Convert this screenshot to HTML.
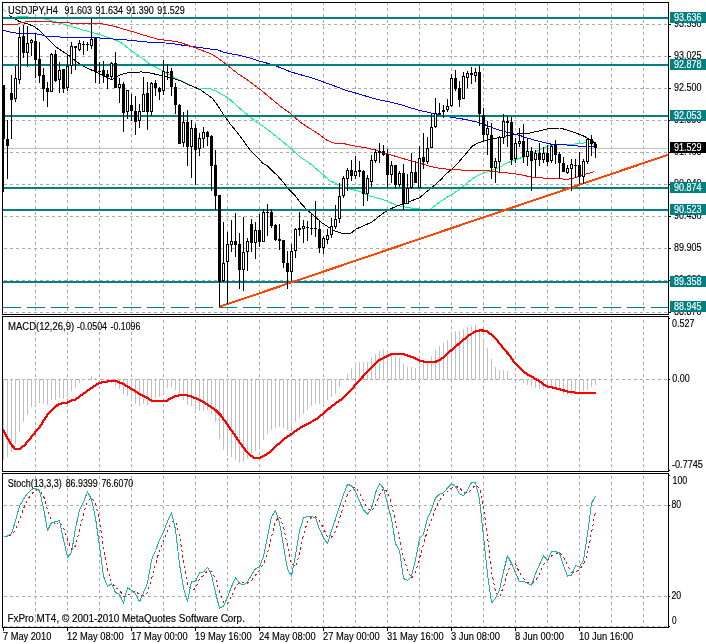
<!DOCTYPE html>
<html><head><meta charset="utf-8"><title>USDJPY,H4</title>
<style>html,body{margin:0;padding:0;background:#fff}svg{display:block}text{font-family:"Liberation Sans",Arial,sans-serif;font-size:10px;fill:#000;stroke:#000;stroke-width:0.15px}.w{stroke:#fff}.w{fill:#fff}</style>
</head><body>
<svg width="706" height="644" viewBox="0 0 706 644">
<rect x="0" y="0" width="706" height="644" fill="#fff"/>
<g stroke="#ababab" stroke-width="1" stroke-dasharray="3 3" shape-rendering="crispEdges" fill="none">
<line x1="35.5" y1="2" x2="35.5" y2="627"/>
<line x1="67.5" y1="2" x2="67.5" y2="627"/>
<line x1="99.5" y1="2" x2="99.5" y2="627"/>
<line x1="131.5" y1="2" x2="131.5" y2="627"/>
<line x1="163.5" y1="2" x2="163.5" y2="627"/>
<line x1="195.5" y1="2" x2="195.5" y2="627"/>
<line x1="227.5" y1="2" x2="227.5" y2="627"/>
<line x1="259.5" y1="2" x2="259.5" y2="627"/>
<line x1="291.5" y1="2" x2="291.5" y2="627"/>
<line x1="323.5" y1="2" x2="323.5" y2="627"/>
<line x1="355.5" y1="2" x2="355.5" y2="627"/>
<line x1="387.5" y1="2" x2="387.5" y2="627"/>
<line x1="419.5" y1="2" x2="419.5" y2="627"/>
<line x1="451.5" y1="2" x2="451.5" y2="627"/>
<line x1="483.5" y1="2" x2="483.5" y2="627"/>
<line x1="515.5" y1="2" x2="515.5" y2="627"/>
<line x1="547.5" y1="2" x2="547.5" y2="627"/>
<line x1="579.5" y1="2" x2="579.5" y2="627"/>
<line x1="611.5" y1="2" x2="611.5" y2="627"/>
<line x1="643.5" y1="2" x2="643.5" y2="627"/>
<line x1="4" y1="24.5" x2="668" y2="24.5"/>
<line x1="4" y1="56.5" x2="668" y2="56.5"/>
<line x1="4" y1="88.5" x2="668" y2="88.5"/>
<line x1="4" y1="120.5" x2="668" y2="120.5"/>
<line x1="4" y1="152.5" x2="668" y2="152.5"/>
<line x1="4" y1="184.5" x2="668" y2="184.5"/>
<line x1="4" y1="216.5" x2="668" y2="216.5"/>
<line x1="4" y1="248.5" x2="668" y2="248.5"/>
<line x1="4" y1="280.5" x2="668" y2="280.5"/>
<line x1="4" y1="312.5" x2="668" y2="312.5"/>
<line x1="4" y1="379.5" x2="668" y2="379.5"/>
<line x1="4" y1="505.5" x2="668" y2="505.5"/>
<line x1="4" y1="596.5" x2="668" y2="596.5"/>
<line x1="4" y1="626.5" x2="668" y2="626.5"/>
</g>
<line x1="3" y1="148.5" x2="668" y2="148.5" stroke="#c0c0c0" stroke-width="1" shape-rendering="crispEdges"/>
<g stroke="#c0c0c0" stroke-width="1" shape-rendering="crispEdges">
<line x1="3.5" y1="379" x2="3.5" y2="460"/>
<line x1="7.5" y1="379" x2="7.5" y2="457"/>
<line x1="11.5" y1="379" x2="11.5" y2="452"/>
<line x1="15.5" y1="379" x2="15.5" y2="444"/>
<line x1="19.5" y1="379" x2="19.5" y2="432"/>
<line x1="23.5" y1="379" x2="23.5" y2="422"/>
<line x1="27.5" y1="379" x2="27.5" y2="415"/>
<line x1="31.5" y1="379" x2="31.5" y2="407"/>
<line x1="35.5" y1="379" x2="35.5" y2="405"/>
<line x1="39.5" y1="379" x2="39.5" y2="403"/>
<line x1="43.5" y1="379" x2="43.5" y2="404"/>
<line x1="47.5" y1="379" x2="47.5" y2="405"/>
<line x1="51.5" y1="379" x2="51.5" y2="400"/>
<line x1="55.5" y1="379" x2="55.5" y2="400"/>
<line x1="59.5" y1="379" x2="59.5" y2="398"/>
<line x1="63.5" y1="379" x2="63.5" y2="399"/>
<line x1="67.5" y1="379" x2="67.5" y2="397"/>
<line x1="71.5" y1="379" x2="71.5" y2="391"/>
<line x1="75.5" y1="379" x2="75.5" y2="388"/>
<line x1="79.5" y1="379" x2="79.5" y2="383"/>
<line x1="83.5" y1="379" x2="83.5" y2="380"/>
<line x1="91.5" y1="376" x2="91.5" y2="380"/>
<line x1="95.5" y1="378" x2="95.5" y2="380"/>
<line x1="103.5" y1="379" x2="103.5" y2="380"/>
<line x1="107.5" y1="379" x2="107.5" y2="380"/>
<line x1="111.5" y1="379" x2="111.5" y2="383"/>
<line x1="115.5" y1="379" x2="115.5" y2="386"/>
<line x1="119.5" y1="379" x2="119.5" y2="389"/>
<line x1="123.5" y1="379" x2="123.5" y2="394"/>
<line x1="127.5" y1="379" x2="127.5" y2="396"/>
<line x1="131.5" y1="379" x2="131.5" y2="401"/>
<line x1="135.5" y1="379" x2="135.5" y2="404"/>
<line x1="139.5" y1="379" x2="139.5" y2="406"/>
<line x1="143.5" y1="379" x2="143.5" y2="404"/>
<line x1="147.5" y1="379" x2="147.5" y2="405"/>
<line x1="151.5" y1="379" x2="151.5" y2="401"/>
<line x1="155.5" y1="379" x2="155.5" y2="398"/>
<line x1="159.5" y1="379" x2="159.5" y2="397"/>
<line x1="163.5" y1="379" x2="163.5" y2="394"/>
<line x1="167.5" y1="379" x2="167.5" y2="388"/>
<line x1="171.5" y1="379" x2="171.5" y2="387"/>
<line x1="175.5" y1="379" x2="175.5" y2="390"/>
<line x1="179.5" y1="379" x2="179.5" y2="393"/>
<line x1="183.5" y1="379" x2="183.5" y2="400"/>
<line x1="187.5" y1="379" x2="187.5" y2="405"/>
<line x1="191.5" y1="379" x2="191.5" y2="406"/>
<line x1="195.5" y1="379" x2="195.5" y2="412"/>
<line x1="199.5" y1="379" x2="199.5" y2="411"/>
<line x1="203.5" y1="379" x2="203.5" y2="411"/>
<line x1="207.5" y1="379" x2="207.5" y2="410"/>
<line x1="211.5" y1="379" x2="211.5" y2="414"/>
<line x1="215.5" y1="379" x2="215.5" y2="422"/>
<line x1="219.5" y1="379" x2="219.5" y2="439"/>
<line x1="223.5" y1="379" x2="223.5" y2="450"/>
<line x1="227.5" y1="379" x2="227.5" y2="456"/>
<line x1="231.5" y1="379" x2="231.5" y2="457"/>
<line x1="235.5" y1="379" x2="235.5" y2="460"/>
<line x1="239.5" y1="379" x2="239.5" y2="463"/>
<line x1="243.5" y1="379" x2="243.5" y2="462"/>
<line x1="247.5" y1="379" x2="247.5" y2="459"/>
<line x1="251.5" y1="379" x2="251.5" y2="454"/>
<line x1="255.5" y1="379" x2="255.5" y2="451"/>
<line x1="259.5" y1="379" x2="259.5" y2="449"/>
<line x1="263.5" y1="379" x2="263.5" y2="440"/>
<line x1="267.5" y1="379" x2="267.5" y2="434"/>
<line x1="271.5" y1="379" x2="271.5" y2="430"/>
<line x1="275.5" y1="379" x2="275.5" y2="428"/>
<line x1="279.5" y1="379" x2="279.5" y2="427"/>
<line x1="283.5" y1="379" x2="283.5" y2="428"/>
<line x1="287.5" y1="379" x2="287.5" y2="430"/>
<line x1="291.5" y1="379" x2="291.5" y2="428"/>
<line x1="295.5" y1="379" x2="295.5" y2="422"/>
<line x1="299.5" y1="379" x2="299.5" y2="418"/>
<line x1="303.5" y1="379" x2="303.5" y2="414"/>
<line x1="307.5" y1="379" x2="307.5" y2="410"/>
<line x1="311.5" y1="379" x2="311.5" y2="406"/>
<line x1="315.5" y1="379" x2="315.5" y2="404"/>
<line x1="319.5" y1="379" x2="319.5" y2="404"/>
<line x1="323.5" y1="379" x2="323.5" y2="403"/>
<line x1="327.5" y1="379" x2="327.5" y2="400"/>
<line x1="331.5" y1="379" x2="331.5" y2="397"/>
<line x1="335.5" y1="379" x2="335.5" y2="394"/>
<line x1="339.5" y1="379" x2="339.5" y2="387"/>
<line x1="343.5" y1="379" x2="343.5" y2="380"/>
<line x1="347.5" y1="374" x2="347.5" y2="380"/>
<line x1="351.5" y1="368" x2="351.5" y2="380"/>
<line x1="355.5" y1="362" x2="355.5" y2="380"/>
<line x1="359.5" y1="362" x2="359.5" y2="380"/>
<line x1="363.5" y1="362" x2="363.5" y2="380"/>
<line x1="367.5" y1="362" x2="367.5" y2="380"/>
<line x1="371.5" y1="358" x2="371.5" y2="380"/>
<line x1="375.5" y1="354" x2="375.5" y2="380"/>
<line x1="379.5" y1="351" x2="379.5" y2="380"/>
<line x1="383.5" y1="349" x2="383.5" y2="380"/>
<line x1="387.5" y1="350" x2="387.5" y2="380"/>
<line x1="391.5" y1="355" x2="391.5" y2="380"/>
<line x1="395.5" y1="356" x2="395.5" y2="380"/>
<line x1="399.5" y1="358" x2="399.5" y2="380"/>
<line x1="403.5" y1="364" x2="403.5" y2="380"/>
<line x1="407.5" y1="367" x2="407.5" y2="380"/>
<line x1="411.5" y1="367" x2="411.5" y2="380"/>
<line x1="415.5" y1="368" x2="415.5" y2="380"/>
<line x1="419.5" y1="366" x2="419.5" y2="380"/>
<line x1="423.5" y1="363" x2="423.5" y2="380"/>
<line x1="427.5" y1="361" x2="427.5" y2="380"/>
<line x1="431.5" y1="356" x2="431.5" y2="380"/>
<line x1="435.5" y1="350" x2="435.5" y2="380"/>
<line x1="439.5" y1="346" x2="439.5" y2="380"/>
<line x1="443.5" y1="343" x2="443.5" y2="380"/>
<line x1="447.5" y1="340" x2="447.5" y2="380"/>
<line x1="451.5" y1="332" x2="451.5" y2="380"/>
<line x1="455.5" y1="331" x2="455.5" y2="380"/>
<line x1="459.5" y1="331" x2="459.5" y2="380"/>
<line x1="463.5" y1="329" x2="463.5" y2="380"/>
<line x1="467.5" y1="327" x2="467.5" y2="380"/>
<line x1="471.5" y1="326" x2="471.5" y2="380"/>
<line x1="475.5" y1="325" x2="475.5" y2="380"/>
<line x1="479.5" y1="329" x2="479.5" y2="380"/>
<line x1="483.5" y1="338" x2="483.5" y2="380"/>
<line x1="487.5" y1="348" x2="487.5" y2="380"/>
<line x1="491.5" y1="359" x2="491.5" y2="380"/>
<line x1="495.5" y1="367" x2="495.5" y2="380"/>
<line x1="499.5" y1="370" x2="499.5" y2="380"/>
<line x1="503.5" y1="370" x2="503.5" y2="380"/>
<line x1="507.5" y1="371" x2="507.5" y2="380"/>
<line x1="511.5" y1="378" x2="511.5" y2="380"/>
<line x1="519.5" y1="379" x2="519.5" y2="381"/>
<line x1="523.5" y1="379" x2="523.5" y2="383"/>
<line x1="527.5" y1="379" x2="527.5" y2="385"/>
<line x1="531.5" y1="379" x2="531.5" y2="386"/>
<line x1="535.5" y1="379" x2="535.5" y2="388"/>
<line x1="539.5" y1="379" x2="539.5" y2="389"/>
<line x1="543.5" y1="379" x2="543.5" y2="389"/>
<line x1="547.5" y1="379" x2="547.5" y2="389"/>
<line x1="551.5" y1="379" x2="551.5" y2="388"/>
<line x1="555.5" y1="379" x2="555.5" y2="390"/>
<line x1="559.5" y1="379" x2="559.5" y2="391"/>
<line x1="563.5" y1="379" x2="563.5" y2="394"/>
<line x1="567.5" y1="379" x2="567.5" y2="395"/>
<line x1="571.5" y1="379" x2="571.5" y2="395"/>
<line x1="575.5" y1="379" x2="575.5" y2="394"/>
<line x1="579.5" y1="379" x2="579.5" y2="393"/>
<line x1="583.5" y1="379" x2="583.5" y2="391"/>
<line x1="587.5" y1="379" x2="587.5" y2="390"/>
<line x1="591.5" y1="379" x2="591.5" y2="387"/>
<line x1="595.5" y1="379" x2="595.5" y2="385"/>
</g>
<g fill="none" stroke-linejoin="round" shape-rendering="crispEdges">
<polyline points="17.0,16.4 18.0,16.3 26.0,16.3 30.0,17.5 40.0,18.0 46.0,19.2 67.6,25.3 85.0,30.5 99.0,34.4 113.0,39.0 121.0,42.6 131.0,50.4 142.0,58.2 149.0,63.5 160.0,69.5 170.0,75.2 178.0,79.4 185.0,82.7 195.0,87.6 199.0,89.4 204.0,88.6 210.0,88.7 216.0,91.0 222.0,94.4 228.0,97.9 236.0,105.0 247.0,114.5 255.0,121.0 262.0,125.5 267.0,129.1 275.0,135.4 285.0,143.4 292.0,149.6 300.0,156.8 310.0,163.5 320.0,172.0 330.0,180.9 340.0,185.4 350.0,189.0 360.0,191.6 370.0,196.0 380.0,198.8 388.0,201.4 396.0,205.0 405.0,207.1 412.0,208.2 418.0,208.4 420.0,209.6 430.0,209.6 432.0,208.0 440.0,201.8 450.0,195.5 460.0,189.3 467.0,183.0 475.0,176.8 483.0,173.2 492.0,170.5 500.0,167.0 506.0,163.4 514.0,160.2 522.0,157.5 530.0,155.0 535.0,151.8 543.0,148.2 549.0,145.5 556.0,144.6 572.0,144.6 579.0,143.4 585.0,142.9 590.0,143.4 595.5,144.6" stroke="#00ff7f" stroke-width="1"/>
<polyline points="3,9 5.6,11.7" stroke="#00ff7f" stroke-width="1"/>
<polyline points="9.0,15.2 10.0,16.2 14.0,18.5 19.5,21.5 24.0,23.0 29.5,24.5 35.0,27.0 40.0,31.0 44.5,35.7 48.0,39.2 56.0,47.0 67.6,54.6 79.0,63.5 85.0,67.0 95.0,71.6 103.0,75.2 111.0,79.7 115.0,78.0 119.0,75.2 127.0,73.0 141.0,71.9 150.0,73.0 160.0,75.2 170.0,77.6 180.0,80.6 190.0,85.3 200.0,89.5 206.0,93.8 212.0,98.0 217.0,104.5 223.0,113.8 230.0,123.7 237.0,132.2 244.0,141.5 250.0,150.0 257.0,156.8 263.0,163.5 267.0,165.7 273.0,171.6 277.0,175.0 283.0,182.0 288.0,188.5 295.0,195.5 301.0,203.5 307.0,209.8 315.0,216.6 322.0,222.9 330.0,228.2 336.0,231.4 342.0,233.2 351.0,233.2 356.0,229.1 364.0,225.5 372.0,222.0 380.0,215.7 386.0,211.2 393.0,207.7 400.0,205.0 408.0,202.3 415.0,199.4 420.0,197.5 425.0,192.9 432.0,187.5 440.0,180.4 447.0,173.2 454.0,167.0 460.0,160.7 466.0,153.6 472.0,146.4 478.0,142.9 485.0,140.7 492.0,138.9 500.0,137.5 508.0,135.4 518.0,133.9 530.0,133.0 540.0,130.7 550.0,128.2 560.0,128.0 567.0,130.0 575.0,132.7 583.0,135.7 588.0,138.4 592.0,140.7 595.5,143.8" stroke="#000" stroke-width="1"/>
<polyline points="3.0,30.4 6.0,31.0 10.0,32.0 18.0,33.3 34.0,33.5 42.0,35.0 46.0,36.3 63.7,37.2 89.0,37.2 99.0,37.9 113.0,39.0 127.0,40.0 145.0,41.9 165.0,43.0 170.0,43.1 180.0,44.8 190.0,46.2 200.0,47.6 210.0,49.0 217.0,49.7 224.0,52.3 232.0,54.0 240.0,55.4 250.0,58.0 260.0,61.2 270.0,64.0 280.0,67.5 291.0,72.0 300.0,74.6 310.0,77.3 323.0,81.8 335.0,86.2 346.0,90.4 357.0,93.4 370.0,97.4 380.0,100.0 390.0,102.1 400.0,104.5 410.0,107.7 420.0,110.5 432.0,113.2 452.0,117.4 465.0,119.4 478.0,122.3 488.0,125.9 497.0,129.5 506.0,132.1 514.0,133.9 520.0,135.5 527.0,137.9 535.0,140.2 545.0,142.9 552.0,144.3 562.0,144.6 572.0,145.5 582.0,146.4 590.0,146.4 595.5,146.8" stroke="#0000ff" stroke-width="1"/>
<polyline points="3.0,24.5 17.0,24.5 19.0,23.3 22.0,22.5 29.0,21.3 46.0,21.3 55.0,22.3 70.0,23.0 85.0,23.5 100.0,23.5 113.0,26.0 131.0,31.2 145.0,35.5 159.0,39.5 170.0,40.7 180.0,42.4 188.0,45.2 195.0,47.6 202.0,50.5 210.0,53.3 217.0,57.5 224.0,62.5 231.0,68.2 238.0,73.8 247.0,79.5 255.0,85.5 262.0,91.0 270.0,97.6 280.0,105.9 291.0,113.9 300.0,122.0 308.0,127.3 318.0,133.6 326.0,139.8 333.0,142.9 345.0,143.9 355.0,146.0 370.0,148.6 385.0,153.2 400.0,157.6 410.0,160.7 420.0,163.2 430.0,166.4 440.0,168.4 452.0,169.6 465.0,170.2 478.0,170.2 490.0,171.0 500.0,172.3 510.0,173.2 520.0,174.5 530.0,176.8 540.0,177.7 550.0,178.6 560.0,178.6 567.0,179.5 575.0,177.7 583.0,175.0 590.0,172.9 594.5,171.6" stroke="#ff0000" stroke-width="1"/>
<polyline points="3.0,429.5 7.0,437.3 11.0,444.4 15.0,448.6 20.0,448.6 24.0,445.8 29.0,440.1 34.0,433.7 40.0,426.7 46.0,416.7 52.0,409.7 58.0,404.7 61.0,403.6 67.0,402.6 71.0,400.5 75.0,399.7 81.0,395.5 87.0,391.2 93.0,387.0 99.0,383.0 105.0,381.9 111.0,381.0 117.0,381.3 123.0,383.9 129.0,387.3 135.0,391.0 141.0,395.0 147.0,397.9 152.0,400.6 160.0,401.0 167.0,400.6 171.0,398.4 176.0,395.8 183.0,395.0 190.0,395.8 196.0,398.4 203.0,401.8 209.0,405.7 215.0,409.5 221.0,415.5 227.0,424.0 233.0,432.6 239.0,441.6 245.0,449.6 250.0,455.3 254.0,457.6 260.0,457.6 265.0,455.3 271.0,451.3 277.0,445.4 284.0,438.9 291.0,434.3 298.0,429.1 305.0,425.2 312.0,421.5 318.0,418.0 324.0,412.9 331.0,406.8 337.0,402.5 343.0,398.2 349.0,392.3 355.0,385.4 361.0,378.6 367.0,372.3 373.0,365.8 379.0,360.3 385.0,357.3 391.0,354.2 397.0,353.8 403.0,354.2 409.0,355.9 415.0,358.1 420.0,360.7 425.0,361.9 431.0,361.9 437.0,361.5 441.0,359.2 446.0,355.2 452.0,349.6 458.0,344.5 464.0,339.3 470.0,334.7 475.0,331.7 480.0,330.3 486.0,330.8 491.0,334.2 497.0,340.2 503.0,347.9 509.0,354.7 515.0,363.2 521.0,369.2 526.0,373.5 532.0,376.9 538.0,380.3 544.0,384.6 548.0,386.6 554.0,387.8 560.0,389.4 568.0,391.6 575.0,392.6 582.0,392.9 590.0,392.9 596.0,392.9" stroke="#ff0000" stroke-width="2.2"/>
<polyline points="3.5,536.1 7.5,536.1 11.5,535.2 15.5,530.1 19.5,520.1 23.5,508.7 27.5,499.5 31.5,494.0 35.5,490.4 39.5,489.6 43.5,495.7 47.5,509.7 51.5,520.4 55.5,525.0 59.5,521.7 63.5,527.4 67.5,539.2 71.5,549.9 75.5,546.1 79.5,530.4 83.5,513.5 87.5,501.2 91.5,497.7 95.5,503.0 99.5,521.0 103.5,546.7 107.5,569.6 111.5,582.1 115.5,587.6 119.5,590.1 123.5,596.6 127.5,595.0 131.5,593.6 135.5,590.5 139.5,595.2 143.5,596.0 147.5,592.5 151.5,578.5 155.5,564.5 159.5,550.2 163.5,540.8 167.5,531.1 171.5,522.0 175.5,521.3 179.5,535.6 183.5,560.6 187.5,584.7 191.5,590.5 195.5,588.5 199.5,578.8 203.5,575.4 207.5,570.7 211.5,571.4 215.5,578.3 219.5,591.9 223.5,602.4 227.5,603.9 231.5,596.7 235.5,587.2 239.5,582.6 243.5,582.1 247.5,583.4 251.5,580.7 255.5,575.2 259.5,570.2 263.5,564.0 267.5,553.3 271.5,536.6 275.5,521.3 279.5,516.6 283.5,526.3 287.5,545.9 291.5,563.8 295.5,566.9 299.5,554.0 303.5,534.6 307.5,521.6 311.5,516.8 315.5,516.8 319.5,521.1 323.5,528.2 327.5,536.8 331.5,537.3 335.5,531.1 339.5,518.7 343.5,506.7 347.5,495.0 351.5,488.2 355.5,487.3 359.5,492.9 363.5,500.9 367.5,508.5 371.5,510.9 375.5,505.3 379.5,495.0 383.5,488.1 387.5,491.9 391.5,503.7 395.5,522.2 399.5,537.7 403.5,557.5 407.5,569.8 411.5,578.4 415.5,572.2 419.5,558.3 423.5,544.3 427.5,530.3 431.5,520.5 435.5,508.5 439.5,500.6 443.5,495.0 447.5,491.7 451.5,488.2 455.5,486.1 459.5,487.9 463.5,491.9 467.5,493.1 471.5,489.4 475.5,485.0 479.5,488.1 483.5,506.1 487.5,536.6 491.5,571.1 495.5,591.7 499.5,597.1 503.5,586.6 507.5,572.4 511.5,563.5 515.5,563.9 519.5,572.7 523.5,578.7 527.5,582.2 531.5,583.2 535.5,580.7 539.5,574.4 543.5,564.8 547.5,560.1 551.5,555.9 555.5,554.4 559.5,552.1 563.5,556.8 567.5,564.9 571.5,572.3 575.5,572.3 579.5,569.2 583.5,564.3 587.5,553.8 591.5,532.7 595.5,511.2" stroke="#ff0000" stroke-width="1" stroke-dasharray="2.5 3"/>
<polyline points="3.5,536.1 7.5,536.1 11.5,533.5 15.5,520.8 19.5,506.1 23.5,499.1 27.5,493.4 31.5,489.6 35.5,488.3 39.5,490.8 43.5,508.0 47.5,530.4 51.5,522.7 55.5,521.8 59.5,520.5 63.5,539.9 67.5,557.1 71.5,552.7 75.5,528.4 79.5,510.0 83.5,502.0 87.5,491.7 91.5,499.3 95.5,517.9 99.5,545.9 103.5,576.2 107.5,586.6 111.5,583.6 115.5,592.5 119.5,594.3 123.5,603.0 127.5,587.8 131.5,590.1 135.5,593.6 139.5,601.8 143.5,592.5 147.5,583.2 151.5,559.9 155.5,550.5 159.5,540.1 163.5,531.9 167.5,521.4 171.5,512.8 175.5,529.6 179.5,564.5 183.5,587.8 187.5,601.8 191.5,582.0 195.5,581.6 199.5,572.7 203.5,572.0 207.5,567.3 211.5,575.0 215.5,592.5 219.5,608.3 223.5,606.4 227.5,597.1 231.5,586.6 235.5,578.0 239.5,583.2 243.5,585.0 247.5,582.0 251.5,575.0 255.5,568.7 259.5,566.8 263.5,556.4 267.5,536.6 271.5,516.8 275.5,510.5 279.5,522.6 283.5,545.9 287.5,569.2 291.5,576.2 295.5,555.2 299.5,530.7 303.5,517.9 307.5,516.3 311.5,516.3 315.5,517.9 319.5,529.1 323.5,537.7 327.5,543.6 331.5,530.7 335.5,519.1 339.5,506.3 343.5,494.6 347.5,484.2 351.5,485.8 355.5,491.8 359.5,501.2 363.5,509.8 367.5,514.4 371.5,508.6 375.5,492.8 379.5,483.5 383.5,488.1 387.5,504.0 391.5,519.1 395.5,543.6 399.5,550.5 403.5,578.5 407.5,580.4 411.5,576.2 415.5,559.9 419.5,538.9 423.5,534.2 427.5,517.9 431.5,509.5 435.5,498.1 439.5,494.2 443.5,492.8 447.5,488.1 451.5,483.7 455.5,486.5 459.5,493.5 463.5,495.8 467.5,490.0 471.5,482.5 475.5,482.5 479.5,499.3 483.5,536.6 487.5,573.8 491.5,603.0 495.5,598.3 499.5,590.1 503.5,571.5 507.5,555.7 511.5,563.4 515.5,572.7 519.5,582.0 523.5,581.3 527.5,583.2 531.5,585.0 535.5,573.8 539.5,564.5 543.5,556.0 547.5,559.9 551.5,551.7 555.5,551.7 559.5,552.9 563.5,565.7 567.5,576.2 571.5,575.0 575.5,565.7 579.5,566.8 583.5,560.3 587.5,534.2 591.5,503.5 595.5,495.8" stroke="#20b2aa" stroke-width="1"/>
</g>
<g fill="#008080" shape-rendering="crispEdges">
<rect x="3" y="17" width="665" height="2"/>
<rect x="3" y="64" width="665" height="2"/>
<rect x="3" y="115" width="665" height="2"/>
<rect x="3" y="187" width="665" height="2"/>
<rect x="3" y="209" width="665" height="2"/>
<rect x="3" y="281" width="665" height="2"/>
</g>
<line x1="3" y1="307.5" x2="668" y2="307.5" stroke="#008080" stroke-width="1" stroke-dasharray="18 6" shape-rendering="crispEdges"/>
<line x1="219.5" y1="306.8" x2="668" y2="154.8" stroke="#ff4500" stroke-width="2" shape-rendering="crispEdges"/>
<g shape-rendering="crispEdges" stroke="none">
<rect x="3" y="85" width="1" height="107" fill="#000"/>
<rect x="2" y="85" width="3" height="54" fill="#000"/>
<rect x="7" y="120" width="1" height="59" fill="#000"/>
<rect x="6" y="139" width="3" height="7" fill="#000"/>
<rect x="11" y="75" width="1" height="64" fill="#000"/>
<rect x="10" y="93" width="3" height="7" fill="#000"/>
<rect x="15" y="66" width="1" height="36" fill="#000"/>
<rect x="14" y="78" width="3" height="21" fill="#000"/>
<rect x="15" y="79" width="1" height="19" fill="#fff"/>
<rect x="19" y="27" width="1" height="57" fill="#000"/>
<rect x="18" y="37" width="3" height="43" fill="#000"/>
<rect x="19" y="38" width="1" height="41" fill="#fff"/>
<rect x="23" y="25" width="1" height="33" fill="#000"/>
<rect x="22" y="36" width="3" height="17" fill="#000"/>
<rect x="27" y="26" width="1" height="41" fill="#000"/>
<rect x="26" y="43" width="3" height="10" fill="#000"/>
<rect x="27" y="44" width="1" height="8" fill="#fff"/>
<rect x="31" y="39" width="1" height="17" fill="#000"/>
<rect x="30" y="40" width="3" height="3" fill="#000"/>
<rect x="31" y="41" width="1" height="1" fill="#fff"/>
<rect x="35" y="34" width="1" height="44" fill="#000"/>
<rect x="34" y="41" width="3" height="19" fill="#000"/>
<rect x="39" y="42" width="1" height="41" fill="#000"/>
<rect x="38" y="59" width="3" height="17" fill="#000"/>
<rect x="43" y="68" width="1" height="33" fill="#000"/>
<rect x="42" y="75" width="3" height="14" fill="#000"/>
<rect x="47" y="82" width="1" height="25" fill="#000"/>
<rect x="46" y="88" width="3" height="4" fill="#000"/>
<rect x="51" y="53" width="1" height="39" fill="#000"/>
<rect x="50" y="54" width="3" height="38" fill="#000"/>
<rect x="51" y="55" width="1" height="36" fill="#fff"/>
<rect x="55" y="50" width="1" height="32" fill="#000"/>
<rect x="54" y="54" width="3" height="27" fill="#000"/>
<rect x="59" y="62" width="1" height="31" fill="#000"/>
<rect x="58" y="70" width="3" height="10" fill="#000"/>
<rect x="59" y="71" width="1" height="8" fill="#fff"/>
<rect x="63" y="69" width="1" height="24" fill="#000"/>
<rect x="62" y="69" width="3" height="20" fill="#000"/>
<rect x="67" y="55" width="1" height="36" fill="#000"/>
<rect x="66" y="66" width="3" height="22" fill="#000"/>
<rect x="67" y="67" width="1" height="20" fill="#fff"/>
<rect x="71" y="42" width="1" height="32" fill="#000"/>
<rect x="70" y="46" width="3" height="20" fill="#000"/>
<rect x="71" y="47" width="1" height="18" fill="#fff"/>
<rect x="75" y="46" width="1" height="24" fill="#000"/>
<rect x="74" y="46" width="3" height="2" fill="#000"/>
<rect x="79" y="40" width="1" height="11" fill="#000"/>
<rect x="78" y="43" width="3" height="7" fill="#000"/>
<rect x="79" y="44" width="1" height="5" fill="#fff"/>
<rect x="83" y="41" width="1" height="14" fill="#000"/>
<rect x="82" y="44" width="3" height="1" fill="#000"/>
<rect x="87" y="42" width="1" height="9" fill="#000"/>
<rect x="86" y="44" width="3" height="1" fill="#000"/>
<rect x="91" y="18" width="1" height="31" fill="#000"/>
<rect x="90" y="39" width="3" height="7" fill="#000"/>
<rect x="91" y="40" width="1" height="5" fill="#fff"/>
<rect x="95" y="38" width="1" height="45" fill="#000"/>
<rect x="94" y="38" width="3" height="34" fill="#000"/>
<rect x="99" y="62" width="1" height="22" fill="#000"/>
<rect x="98" y="71" width="3" height="1" fill="#000"/>
<rect x="103" y="61" width="1" height="22" fill="#000"/>
<rect x="102" y="70" width="3" height="5" fill="#000"/>
<rect x="107" y="70" width="1" height="19" fill="#000"/>
<rect x="106" y="74" width="3" height="3" fill="#000"/>
<rect x="111" y="62" width="1" height="18" fill="#000"/>
<rect x="110" y="63" width="3" height="14" fill="#000"/>
<rect x="111" y="64" width="1" height="12" fill="#fff"/>
<rect x="115" y="52" width="1" height="36" fill="#000"/>
<rect x="114" y="63" width="3" height="25" fill="#000"/>
<rect x="119" y="78" width="1" height="25" fill="#000"/>
<rect x="118" y="84" width="3" height="4" fill="#000"/>
<rect x="119" y="85" width="1" height="2" fill="#fff"/>
<rect x="123" y="82" width="1" height="50" fill="#000"/>
<rect x="122" y="84" width="3" height="29" fill="#000"/>
<rect x="127" y="90" width="1" height="29" fill="#000"/>
<rect x="126" y="90" width="3" height="22" fill="#000"/>
<rect x="127" y="91" width="1" height="20" fill="#fff"/>
<rect x="131" y="94" width="1" height="27" fill="#000"/>
<rect x="130" y="105" width="3" height="6" fill="#000"/>
<rect x="135" y="96" width="1" height="39" fill="#000"/>
<rect x="134" y="111" width="3" height="11" fill="#000"/>
<rect x="139" y="104" width="1" height="24" fill="#000"/>
<rect x="138" y="111" width="3" height="10" fill="#000"/>
<rect x="139" y="112" width="1" height="8" fill="#fff"/>
<rect x="143" y="77" width="1" height="35" fill="#000"/>
<rect x="142" y="94" width="3" height="18" fill="#000"/>
<rect x="143" y="95" width="1" height="16" fill="#fff"/>
<rect x="147" y="82" width="1" height="48" fill="#000"/>
<rect x="146" y="93" width="3" height="19" fill="#000"/>
<rect x="151" y="82" width="1" height="34" fill="#000"/>
<rect x="150" y="83" width="3" height="29" fill="#000"/>
<rect x="151" y="84" width="1" height="27" fill="#fff"/>
<rect x="155" y="80" width="1" height="16" fill="#000"/>
<rect x="154" y="83" width="3" height="5" fill="#000"/>
<rect x="159" y="87" width="1" height="13" fill="#000"/>
<rect x="158" y="88" width="3" height="4" fill="#000"/>
<rect x="163" y="60" width="1" height="35" fill="#000"/>
<rect x="162" y="71" width="3" height="20" fill="#000"/>
<rect x="163" y="72" width="1" height="18" fill="#fff"/>
<rect x="167" y="64" width="1" height="16" fill="#000"/>
<rect x="166" y="72" width="3" height="1" fill="#000"/>
<rect x="171" y="68" width="1" height="28" fill="#000"/>
<rect x="170" y="71" width="3" height="16" fill="#000"/>
<rect x="175" y="83" width="1" height="31" fill="#000"/>
<rect x="174" y="87" width="3" height="18" fill="#000"/>
<rect x="179" y="104" width="1" height="40" fill="#000"/>
<rect x="178" y="105" width="3" height="39" fill="#000"/>
<rect x="183" y="112" width="1" height="35" fill="#000"/>
<rect x="182" y="122" width="3" height="21" fill="#000"/>
<rect x="183" y="123" width="1" height="19" fill="#fff"/>
<rect x="187" y="110" width="1" height="56" fill="#000"/>
<rect x="186" y="122" width="3" height="25" fill="#000"/>
<rect x="191" y="120" width="1" height="58" fill="#000"/>
<rect x="190" y="128" width="3" height="19" fill="#000"/>
<rect x="191" y="129" width="1" height="17" fill="#fff"/>
<rect x="195" y="124" width="1" height="61" fill="#000"/>
<rect x="194" y="128" width="3" height="22" fill="#000"/>
<rect x="199" y="133" width="1" height="23" fill="#000"/>
<rect x="198" y="138" width="3" height="11" fill="#000"/>
<rect x="199" y="139" width="1" height="9" fill="#fff"/>
<rect x="203" y="127" width="1" height="21" fill="#000"/>
<rect x="202" y="132" width="3" height="7" fill="#000"/>
<rect x="203" y="133" width="1" height="5" fill="#fff"/>
<rect x="207" y="131" width="1" height="15" fill="#000"/>
<rect x="206" y="132" width="3" height="5" fill="#000"/>
<rect x="211" y="135" width="1" height="56" fill="#000"/>
<rect x="210" y="136" width="3" height="30" fill="#000"/>
<rect x="215" y="150" width="1" height="60" fill="#000"/>
<rect x="214" y="165" width="3" height="31" fill="#000"/>
<rect x="219" y="195" width="1" height="112" fill="#000"/>
<rect x="218" y="195" width="3" height="87" fill="#000"/>
<rect x="223" y="222" width="1" height="60" fill="#000"/>
<rect x="222" y="263" width="3" height="18" fill="#000"/>
<rect x="223" y="264" width="1" height="16" fill="#fff"/>
<rect x="227" y="232" width="1" height="72" fill="#000"/>
<rect x="226" y="244" width="3" height="18" fill="#000"/>
<rect x="227" y="245" width="1" height="16" fill="#fff"/>
<rect x="231" y="220" width="1" height="32" fill="#000"/>
<rect x="230" y="241" width="3" height="4" fill="#000"/>
<rect x="231" y="242" width="1" height="2" fill="#fff"/>
<rect x="235" y="213" width="1" height="44" fill="#000"/>
<rect x="234" y="241" width="3" height="4" fill="#000"/>
<rect x="239" y="233" width="1" height="56" fill="#000"/>
<rect x="238" y="244" width="3" height="26" fill="#000"/>
<rect x="243" y="217" width="1" height="74" fill="#000"/>
<rect x="242" y="252" width="3" height="18" fill="#000"/>
<rect x="243" y="253" width="1" height="16" fill="#fff"/>
<rect x="247" y="238" width="1" height="33" fill="#000"/>
<rect x="246" y="241" width="3" height="11" fill="#000"/>
<rect x="247" y="242" width="1" height="9" fill="#fff"/>
<rect x="251" y="219" width="1" height="33" fill="#000"/>
<rect x="250" y="224" width="3" height="19" fill="#000"/>
<rect x="255" y="222" width="1" height="37" fill="#000"/>
<rect x="254" y="230" width="3" height="13" fill="#000"/>
<rect x="255" y="231" width="1" height="11" fill="#fff"/>
<rect x="259" y="214" width="1" height="33" fill="#000"/>
<rect x="258" y="230" width="3" height="12" fill="#000"/>
<rect x="263" y="209" width="1" height="33" fill="#000"/>
<rect x="262" y="212" width="3" height="30" fill="#000"/>
<rect x="263" y="213" width="1" height="28" fill="#fff"/>
<rect x="267" y="204" width="1" height="32" fill="#000"/>
<rect x="266" y="212" width="3" height="1" fill="#000"/>
<rect x="271" y="209" width="1" height="19" fill="#000"/>
<rect x="270" y="212" width="3" height="14" fill="#000"/>
<rect x="275" y="224" width="1" height="17" fill="#000"/>
<rect x="274" y="225" width="3" height="15" fill="#000"/>
<rect x="279" y="224" width="1" height="26" fill="#000"/>
<rect x="278" y="239" width="3" height="2" fill="#000"/>
<rect x="283" y="240" width="1" height="28" fill="#000"/>
<rect x="282" y="240" width="3" height="23" fill="#000"/>
<rect x="287" y="251" width="1" height="38" fill="#000"/>
<rect x="286" y="263" width="3" height="9" fill="#000"/>
<rect x="291" y="244" width="1" height="37" fill="#000"/>
<rect x="290" y="251" width="3" height="21" fill="#000"/>
<rect x="291" y="252" width="1" height="19" fill="#fff"/>
<rect x="295" y="228" width="1" height="30" fill="#000"/>
<rect x="294" y="229" width="3" height="22" fill="#000"/>
<rect x="295" y="230" width="1" height="20" fill="#fff"/>
<rect x="299" y="212" width="1" height="24" fill="#000"/>
<rect x="298" y="228" width="3" height="2" fill="#000"/>
<rect x="303" y="220" width="1" height="23" fill="#000"/>
<rect x="302" y="226" width="3" height="3" fill="#000"/>
<rect x="303" y="227" width="1" height="1" fill="#fff"/>
<rect x="307" y="221" width="1" height="20" fill="#000"/>
<rect x="306" y="227" width="3" height="1" fill="#000"/>
<rect x="311" y="214" width="1" height="21" fill="#000"/>
<rect x="310" y="228" width="3" height="1" fill="#000"/>
<rect x="315" y="201" width="1" height="36" fill="#000"/>
<rect x="314" y="228" width="3" height="1" fill="#000"/>
<rect x="319" y="220" width="1" height="33" fill="#000"/>
<rect x="318" y="229" width="3" height="19" fill="#000"/>
<rect x="323" y="236" width="1" height="18" fill="#000"/>
<rect x="322" y="238" width="3" height="10" fill="#000"/>
<rect x="323" y="239" width="1" height="8" fill="#fff"/>
<rect x="327" y="229" width="1" height="15" fill="#000"/>
<rect x="326" y="235" width="3" height="5" fill="#000"/>
<rect x="327" y="236" width="1" height="3" fill="#fff"/>
<rect x="331" y="218" width="1" height="20" fill="#000"/>
<rect x="330" y="226" width="3" height="9" fill="#000"/>
<rect x="331" y="227" width="1" height="7" fill="#fff"/>
<rect x="335" y="205" width="1" height="24" fill="#000"/>
<rect x="334" y="219" width="3" height="8" fill="#000"/>
<rect x="335" y="220" width="1" height="6" fill="#fff"/>
<rect x="339" y="183" width="1" height="40" fill="#000"/>
<rect x="338" y="196" width="3" height="23" fill="#000"/>
<rect x="339" y="197" width="1" height="21" fill="#fff"/>
<rect x="343" y="176" width="1" height="22" fill="#000"/>
<rect x="342" y="178" width="3" height="18" fill="#000"/>
<rect x="343" y="179" width="1" height="16" fill="#fff"/>
<rect x="347" y="168" width="1" height="23" fill="#000"/>
<rect x="346" y="170" width="3" height="9" fill="#000"/>
<rect x="347" y="171" width="1" height="7" fill="#fff"/>
<rect x="351" y="160" width="1" height="21" fill="#000"/>
<rect x="350" y="170" width="3" height="6" fill="#000"/>
<rect x="355" y="156" width="1" height="23" fill="#000"/>
<rect x="354" y="171" width="3" height="5" fill="#000"/>
<rect x="355" y="172" width="1" height="3" fill="#fff"/>
<rect x="359" y="161" width="1" height="16" fill="#000"/>
<rect x="358" y="170" width="3" height="2" fill="#000"/>
<rect x="363" y="170" width="1" height="36" fill="#000"/>
<rect x="362" y="171" width="3" height="23" fill="#000"/>
<rect x="367" y="175" width="1" height="26" fill="#000"/>
<rect x="366" y="178" width="3" height="16" fill="#000"/>
<rect x="367" y="179" width="1" height="14" fill="#fff"/>
<rect x="371" y="155" width="1" height="32" fill="#000"/>
<rect x="370" y="160" width="3" height="22" fill="#000"/>
<rect x="371" y="161" width="1" height="20" fill="#fff"/>
<rect x="375" y="149" width="1" height="14" fill="#000"/>
<rect x="374" y="152" width="3" height="9" fill="#000"/>
<rect x="375" y="153" width="1" height="7" fill="#fff"/>
<rect x="379" y="143" width="1" height="20" fill="#000"/>
<rect x="378" y="151" width="3" height="2" fill="#000"/>
<rect x="383" y="145" width="1" height="11" fill="#000"/>
<rect x="382" y="151" width="3" height="4" fill="#000"/>
<rect x="387" y="149" width="1" height="38" fill="#000"/>
<rect x="386" y="154" width="3" height="21" fill="#000"/>
<rect x="391" y="161" width="1" height="22" fill="#000"/>
<rect x="390" y="165" width="3" height="10" fill="#000"/>
<rect x="391" y="166" width="1" height="8" fill="#fff"/>
<rect x="395" y="165" width="1" height="24" fill="#000"/>
<rect x="394" y="165" width="3" height="20" fill="#000"/>
<rect x="399" y="171" width="1" height="16" fill="#000"/>
<rect x="398" y="173" width="3" height="12" fill="#000"/>
<rect x="399" y="174" width="1" height="10" fill="#fff"/>
<rect x="403" y="164" width="1" height="46" fill="#000"/>
<rect x="402" y="173" width="3" height="31" fill="#000"/>
<rect x="407" y="174" width="1" height="30" fill="#000"/>
<rect x="406" y="188" width="3" height="16" fill="#000"/>
<rect x="407" y="189" width="1" height="14" fill="#fff"/>
<rect x="411" y="153" width="1" height="36" fill="#000"/>
<rect x="410" y="172" width="3" height="16" fill="#000"/>
<rect x="411" y="173" width="1" height="14" fill="#fff"/>
<rect x="415" y="161" width="1" height="22" fill="#000"/>
<rect x="414" y="172" width="3" height="11" fill="#000"/>
<rect x="419" y="146" width="1" height="42" fill="#000"/>
<rect x="418" y="158" width="3" height="30" fill="#000"/>
<rect x="419" y="159" width="1" height="28" fill="#fff"/>
<rect x="423" y="133" width="1" height="36" fill="#000"/>
<rect x="422" y="157" width="3" height="5" fill="#000"/>
<rect x="427" y="137" width="1" height="27" fill="#000"/>
<rect x="426" y="148" width="3" height="14" fill="#000"/>
<rect x="427" y="149" width="1" height="12" fill="#fff"/>
<rect x="431" y="114" width="1" height="34" fill="#000"/>
<rect x="430" y="127" width="3" height="21" fill="#000"/>
<rect x="431" y="128" width="1" height="19" fill="#fff"/>
<rect x="435" y="98" width="1" height="30" fill="#000"/>
<rect x="434" y="113" width="3" height="14" fill="#000"/>
<rect x="435" y="114" width="1" height="12" fill="#fff"/>
<rect x="439" y="103" width="1" height="11" fill="#000"/>
<rect x="438" y="113" width="3" height="1" fill="#000"/>
<rect x="443" y="105" width="1" height="13" fill="#000"/>
<rect x="442" y="110" width="3" height="2" fill="#000"/>
<rect x="447" y="99" width="1" height="13" fill="#000"/>
<rect x="446" y="106" width="3" height="4" fill="#000"/>
<rect x="447" y="107" width="1" height="2" fill="#fff"/>
<rect x="451" y="74" width="1" height="33" fill="#000"/>
<rect x="450" y="78" width="3" height="28" fill="#000"/>
<rect x="451" y="79" width="1" height="26" fill="#fff"/>
<rect x="455" y="70" width="1" height="21" fill="#000"/>
<rect x="454" y="78" width="3" height="11" fill="#000"/>
<rect x="459" y="81" width="1" height="26" fill="#000"/>
<rect x="458" y="88" width="3" height="12" fill="#000"/>
<rect x="463" y="72" width="1" height="27" fill="#000"/>
<rect x="462" y="76" width="3" height="23" fill="#000"/>
<rect x="463" y="77" width="1" height="21" fill="#fff"/>
<rect x="467" y="71" width="1" height="17" fill="#000"/>
<rect x="466" y="73" width="3" height="5" fill="#000"/>
<rect x="467" y="74" width="1" height="3" fill="#fff"/>
<rect x="471" y="67" width="1" height="17" fill="#000"/>
<rect x="470" y="73" width="3" height="2" fill="#000"/>
<rect x="475" y="68" width="1" height="14" fill="#000"/>
<rect x="474" y="72" width="3" height="4" fill="#000"/>
<rect x="475" y="73" width="1" height="2" fill="#fff"/>
<rect x="479" y="65" width="1" height="61" fill="#000"/>
<rect x="478" y="72" width="3" height="42" fill="#000"/>
<rect x="483" y="108" width="1" height="33" fill="#000"/>
<rect x="482" y="115" width="3" height="20" fill="#000"/>
<rect x="487" y="121" width="1" height="34" fill="#000"/>
<rect x="486" y="128" width="3" height="7" fill="#000"/>
<rect x="487" y="129" width="1" height="5" fill="#fff"/>
<rect x="491" y="123" width="1" height="56" fill="#000"/>
<rect x="490" y="135" width="3" height="33" fill="#000"/>
<rect x="495" y="158" width="1" height="25" fill="#000"/>
<rect x="494" y="161" width="3" height="7" fill="#000"/>
<rect x="495" y="162" width="1" height="5" fill="#fff"/>
<rect x="499" y="136" width="1" height="37" fill="#000"/>
<rect x="498" y="137" width="3" height="25" fill="#000"/>
<rect x="499" y="138" width="1" height="23" fill="#fff"/>
<rect x="503" y="114" width="1" height="30" fill="#000"/>
<rect x="502" y="121" width="3" height="17" fill="#000"/>
<rect x="503" y="122" width="1" height="15" fill="#fff"/>
<rect x="507" y="116" width="1" height="31" fill="#000"/>
<rect x="506" y="121" width="3" height="2" fill="#000"/>
<rect x="511" y="117" width="1" height="48" fill="#000"/>
<rect x="510" y="122" width="3" height="38" fill="#000"/>
<rect x="515" y="138" width="1" height="25" fill="#000"/>
<rect x="514" y="143" width="3" height="16" fill="#000"/>
<rect x="515" y="144" width="1" height="14" fill="#fff"/>
<rect x="519" y="128" width="1" height="19" fill="#000"/>
<rect x="518" y="141" width="3" height="3" fill="#000"/>
<rect x="519" y="142" width="1" height="1" fill="#fff"/>
<rect x="523" y="124" width="1" height="39" fill="#000"/>
<rect x="522" y="141" width="3" height="16" fill="#000"/>
<rect x="527" y="138" width="1" height="28" fill="#000"/>
<rect x="526" y="151" width="3" height="6" fill="#000"/>
<rect x="527" y="152" width="1" height="4" fill="#fff"/>
<rect x="531" y="147" width="1" height="44" fill="#000"/>
<rect x="530" y="151" width="3" height="10" fill="#000"/>
<rect x="535" y="150" width="1" height="27" fill="#000"/>
<rect x="534" y="153" width="3" height="7" fill="#000"/>
<rect x="535" y="154" width="1" height="5" fill="#fff"/>
<rect x="539" y="143" width="1" height="23" fill="#000"/>
<rect x="538" y="153" width="3" height="7" fill="#000"/>
<rect x="543" y="147" width="1" height="16" fill="#000"/>
<rect x="542" y="153" width="3" height="7" fill="#000"/>
<rect x="543" y="154" width="1" height="5" fill="#fff"/>
<rect x="547" y="145" width="1" height="21" fill="#000"/>
<rect x="546" y="153" width="3" height="9" fill="#000"/>
<rect x="551" y="145" width="1" height="18" fill="#000"/>
<rect x="550" y="146" width="3" height="15" fill="#000"/>
<rect x="551" y="147" width="1" height="13" fill="#fff"/>
<rect x="555" y="140" width="1" height="24" fill="#000"/>
<rect x="554" y="145" width="3" height="10" fill="#000"/>
<rect x="559" y="152" width="1" height="27" fill="#000"/>
<rect x="558" y="154" width="3" height="9" fill="#000"/>
<rect x="563" y="157" width="1" height="15" fill="#000"/>
<rect x="562" y="163" width="3" height="9" fill="#000"/>
<rect x="567" y="165" width="1" height="9" fill="#000"/>
<rect x="566" y="168" width="3" height="5" fill="#000"/>
<rect x="567" y="169" width="1" height="3" fill="#fff"/>
<rect x="571" y="159" width="1" height="32" fill="#000"/>
<rect x="570" y="164" width="3" height="5" fill="#000"/>
<rect x="571" y="165" width="1" height="3" fill="#fff"/>
<rect x="575" y="159" width="1" height="19" fill="#000"/>
<rect x="574" y="165" width="3" height="1" fill="#000"/>
<rect x="579" y="152" width="1" height="32" fill="#000"/>
<rect x="578" y="165" width="3" height="12" fill="#000"/>
<rect x="583" y="159" width="1" height="25" fill="#000"/>
<rect x="582" y="161" width="3" height="16" fill="#000"/>
<rect x="583" y="162" width="1" height="14" fill="#fff"/>
<rect x="587" y="139" width="1" height="25" fill="#000"/>
<rect x="586" y="139" width="3" height="23" fill="#000"/>
<rect x="587" y="140" width="1" height="21" fill="#fff"/>
<rect x="591" y="135" width="1" height="21" fill="#000"/>
<rect x="590" y="139" width="3" height="5" fill="#000"/>
<rect x="595" y="142" width="1" height="16" fill="#000"/>
<rect x="594" y="144" width="3" height="4" fill="#000"/>
</g>
<g fill="none" stroke="#000" stroke-width="1" shape-rendering="crispEdges">
<rect x="2.5" y="2.5" width="666" height="312"/>
<rect x="2.5" y="316.5" width="666" height="155"/>
<rect x="2.5" y="473.5" width="666" height="154"/>
</g>
<rect x="669" y="0" width="37" height="644" fill="#fff"/>
<rect x="0" y="315" width="706" height="1" fill="#fff"/>
<rect x="0" y="472" width="706" height="1" fill="#fff"/>
<g fill="#000" shape-rendering="crispEdges">
<rect x="669" y="24" width="2" height="1"/>
<rect x="669" y="56" width="2" height="1"/>
<rect x="669" y="88" width="2" height="1"/>
<rect x="669" y="120" width="2" height="1"/>
<rect x="669" y="152" width="2" height="1"/>
<rect x="669" y="184" width="2" height="1"/>
<rect x="669" y="216" width="2" height="1"/>
<rect x="669" y="248" width="2" height="1"/>
<rect x="669" y="280" width="2" height="1"/>
<rect x="669" y="312" width="2" height="1"/>
<rect x="669" y="318" width="1" height="1"/>
<rect x="669" y="379" width="1" height="1"/>
<rect x="669" y="470" width="1" height="1"/>
<rect x="669" y="475" width="1" height="1"/>
<rect x="669" y="505" width="1" height="1"/>
<rect x="669" y="596" width="1" height="1"/>
<rect x="669" y="626" width="1" height="1"/>
<rect x="3" y="628" width="1" height="3"/>
<rect x="67" y="628" width="1" height="3"/>
<rect x="131" y="628" width="1" height="3"/>
<rect x="195" y="628" width="1" height="3"/>
<rect x="259" y="628" width="1" height="3"/>
<rect x="323" y="628" width="1" height="3"/>
<rect x="387" y="628" width="1" height="3"/>
<rect x="451" y="628" width="1" height="3"/>
<rect x="515" y="628" width="1" height="3"/>
<rect x="579" y="628" width="1" height="3"/>
</g>
<text x="674" y="27" textLength="27.5" lengthAdjust="spacingAndGlyphs">93.550</text>
<text x="674" y="59" textLength="27.5" lengthAdjust="spacingAndGlyphs">93.025</text>
<text x="674" y="91" textLength="27.5" lengthAdjust="spacingAndGlyphs">92.500</text>
<text x="674" y="123" textLength="27.5" lengthAdjust="spacingAndGlyphs">91.990</text>
<text x="674" y="155" textLength="27.5" lengthAdjust="spacingAndGlyphs">91.465</text>
<text x="674" y="187" textLength="27.5" lengthAdjust="spacingAndGlyphs">90.940</text>
<text x="674" y="219" textLength="27.5" lengthAdjust="spacingAndGlyphs">90.430</text>
<text x="674" y="251" textLength="27.5" lengthAdjust="spacingAndGlyphs">89.905</text>
<text x="674" y="283" textLength="27.5" lengthAdjust="spacingAndGlyphs">89.380</text>
<text x="674" y="315" textLength="27.5" lengthAdjust="spacingAndGlyphs">88.870</text>
<rect x="670" y="12" width="36" height="11" fill="#008080" shape-rendering="crispEdges"/>
<text x="674" y="21" class="w" textLength="27.5" lengthAdjust="spacingAndGlyphs">93.636</text>
<rect x="670" y="59" width="36" height="11" fill="#008080" shape-rendering="crispEdges"/>
<text x="674" y="68" class="w" textLength="27.5" lengthAdjust="spacingAndGlyphs">92.878</text>
<rect x="670" y="110" width="36" height="11" fill="#008080" shape-rendering="crispEdges"/>
<text x="674" y="119" class="w" textLength="27.5" lengthAdjust="spacingAndGlyphs">92.053</text>
<rect x="670" y="142" width="36" height="11" fill="#000" shape-rendering="crispEdges"/>
<text x="674" y="151" class="w" textLength="27.5" lengthAdjust="spacingAndGlyphs">91.529</text>
<rect x="670" y="182" width="36" height="11" fill="#008080" shape-rendering="crispEdges"/>
<text x="674" y="191" class="w" textLength="27.5" lengthAdjust="spacingAndGlyphs">90.874</text>
<rect x="670" y="204" width="36" height="11" fill="#008080" shape-rendering="crispEdges"/>
<text x="674" y="213" class="w" textLength="27.5" lengthAdjust="spacingAndGlyphs">90.523</text>
<rect x="670" y="276" width="36" height="11" fill="#008080" shape-rendering="crispEdges"/>
<text x="674" y="285" class="w" textLength="27.5" lengthAdjust="spacingAndGlyphs">89.358</text>
<rect x="670" y="301" width="36" height="11" fill="#008080" shape-rendering="crispEdges"/>
<text x="674" y="310" class="w" textLength="27.5" lengthAdjust="spacingAndGlyphs">88.945</text>
<text x="672" y="327" textLength="22.4" lengthAdjust="spacingAndGlyphs">0.527</text>
<text x="672.3" y="382" textLength="17.4" lengthAdjust="spacingAndGlyphs">0.00</text>
<text x="672" y="468" textLength="30.9" lengthAdjust="spacingAndGlyphs">-0.7745</text>
<text x="672.5" y="484" textLength="14.7" lengthAdjust="spacingAndGlyphs">100</text>
<text x="671.5" y="508" textLength="9.7" lengthAdjust="spacingAndGlyphs">80</text>
<text x="671.5" y="599" textLength="9.7" lengthAdjust="spacingAndGlyphs">20</text>
<text x="672" y="624" textLength="4.6" lengthAdjust="spacingAndGlyphs">0</text>
<text x="8" y="14" textLength="50" lengthAdjust="spacingAndGlyphs">USDJPY,H4</text>
<text x="64.6" y="14" textLength="27.5" lengthAdjust="spacingAndGlyphs">91.603</text>
<text x="95.5" y="14" textLength="27.5" lengthAdjust="spacingAndGlyphs">91.634</text>
<text x="126.2" y="14" textLength="27.5" lengthAdjust="spacingAndGlyphs">91.390</text>
<text x="157.2" y="14" textLength="27.5" lengthAdjust="spacingAndGlyphs">91.529</text>
<text x="8" y="330" textLength="66.2" lengthAdjust="spacingAndGlyphs">MACD(12,26,9)</text>
<text x="77" y="330" textLength="30" lengthAdjust="spacingAndGlyphs">-0.0504</text>
<text x="110.5" y="330" textLength="29.8" lengthAdjust="spacingAndGlyphs">-0.1096</text>
<text x="7.7" y="487" textLength="54" lengthAdjust="spacingAndGlyphs">Stoch(13,3,3)</text>
<text x="65.7" y="487" textLength="32" lengthAdjust="spacingAndGlyphs">86.9399</text>
<text x="101.4" y="487" textLength="31.8" lengthAdjust="spacingAndGlyphs">76.6070</text>
<text x="7.4" y="622" textLength="237.5" lengthAdjust="spacingAndGlyphs">FxPro MT4, © 2001-2010 MetaQuotes Software Corp.</text>
<text x="3" y="640" textLength="48.3" lengthAdjust="spacingAndGlyphs">7 May 2010</text>
<text x="67" y="640" textLength="56.7" lengthAdjust="spacingAndGlyphs">12 May 08:00</text>
<text x="131" y="640" textLength="56.7" lengthAdjust="spacingAndGlyphs">17 May 00:00</text>
<text x="195" y="640" textLength="56.7" lengthAdjust="spacingAndGlyphs">19 May 16:00</text>
<text x="259" y="640" textLength="56.7" lengthAdjust="spacingAndGlyphs">24 May 08:00</text>
<text x="323" y="640" textLength="56.7" lengthAdjust="spacingAndGlyphs">27 May 00:00</text>
<text x="387" y="640" textLength="56.7" lengthAdjust="spacingAndGlyphs">31 May 16:00</text>
<text x="451" y="640" textLength="49" lengthAdjust="spacingAndGlyphs">3 Jun 08:00</text>
<text x="515" y="640" textLength="49" lengthAdjust="spacingAndGlyphs">8 Jun 00:00</text>
<text x="579" y="640" textLength="54.2" lengthAdjust="spacingAndGlyphs">10 Jun 16:00</text>
</svg></body></html>
